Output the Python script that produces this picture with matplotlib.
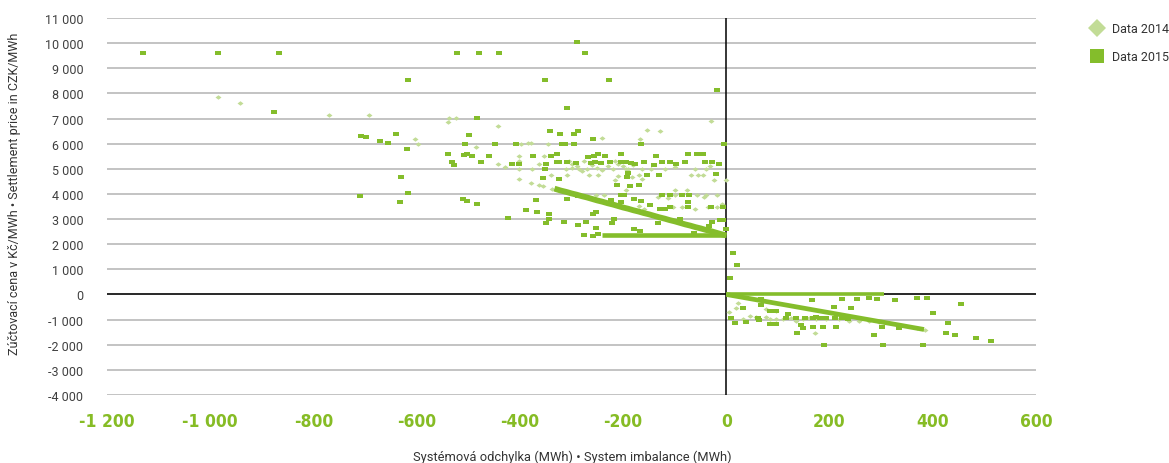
import numpy as np
import matplotlib
matplotlib.use("Agg")
import matplotlib.pyplot as plt
from matplotlib.lines import Line2D
from matplotlib.ticker import FixedLocator, FuncFormatter

# scattered points, 2015 (x = imbalance MWh, y = price CZK/MWh)
x15 = [-1131, -985, -867, -521, -479, -440, -274, -290, -616, -351, -228, -19,
       -876, -484, -308, -707, -699, -672, -655, -641, -618, -499, -342, -322,
       -296, -287, -258, -631, -616, -710, -632, -507, -449, -408, -319, -312,
       -295, -165, -5, -539, -531, -528, -509, -502, -493, -475, -459, -415,
       -401, -374, -352, -350, -329, -325, -329, -340, -309, -292, -268, -257,
       -248, -263, -254, -243, -235, -226, -204, -205, -195, -184, -177, -159,
       -140, -125, -109, -97, -80, -74, -57, -46, -42, -27, -14, -137, -324,
       -355, -192, -190, -153, -131, -20, -212, -186, -170, -125, -109, -86,
       -73, -205, -199, -511, -502, -483, -308, -368, -288, -273, -224, -204,
       -179, -165, -148, -129, -119, -109, -74, -75, -29, -6, -388, -366, -343,
       -344, -349, -423, -315, -258, -253, -287, -271, -253, -248, -259, -276,
       -218, -222, -179, -167, -132, -89, -34, -28, 0, -13, -6, -62,
       13, 21, 8, 225, 254, 277, 291, 326, 369, 389, 166, 208, 242, 455, 401,
       430, 425, 444, 483, 513, 189, 304, 381, 68, 68, 33, 61, 84, 97, 120, 10,
       16, 39, 64, 84, 97, 116, 135, 153, 167, 181, 137, 145, 149, 167, 188,
       212, 174, 193, 211, 225, 235, 241, 286, 301, 335]
y15 = [9600, 9600, 9600, 9600, 9600, 9600, 9600, 10030, 8550, 8550, 8550, 8150,
       7250, 7005, 7400, 6290, 6250, 6090, 6010, 6380, 5780, 6340, 6500, 6380,
       6380, 6490, 6200, 4660, 4020, 3900, 3680, 5980, 5980, 5980, 5980, 6000,
       6000, 5980, 5980, 5580, 5290, 5160, 5545, 5585, 5490, 5270, 5490, 5190,
       5190, 5490, 4990, 5190, 5270, 5270, 5580, 5490, 5270, 5230, 5480, 5520,
       5580, 5250, 5270, 5240, 5490, 5270, 5580, 5270, 5270, 5250, 5190, 5270,
       5170, 5270, 5280, 5190, 5270, 5580, 5580, 5580, 5270, 5270, 5190, 5490, 4580,
       4640, 4680, 4840, 4760, 4760, 4780, 4340, 4310, 4350, 3970, 3970, 3970,
       3970, 3970, 3970, 3810, 3710, 3610, 3780, 3740, 3900, 3870, 3770, 3670,
       3780, 3710, 3570, 3410, 3410, 3475, 3670, 3490, 3475, 3490, 3380, 3290, 3220,
       3010, 2850, 3060, 2880, 3210, 3275, 2750, 2890, 2650, 2390, 2320, 2360,
       2990, 2850, 2590, 2520, 2830, 2990, 2720, 2890, 2610, 2960, 2960, 2460,
       1630, 1170, 665, -170, -170, -130, -170, -240, -130, -130, -240, -505, -545, -370, -730,
       -1130, -1550, -1600, -1740, -1860, -2030, -2030, -2030, -200, -410, -520, -930, -660, -660, -760, -940,
       -1140, -1090, -1000, -1190, -1190, -955, -955, -955, -955, -955, -1540, -1230, -1330, -1290, -1290,
       -1290, -880, -955, -940, -955, -995, -915, -1620, -1290, -1330]

# dense price-rule points, 2015 (negative imbalance: sloped and flat parts)
x15_neg_slope = [-333, -320, -310, -300, -290, -280, -270, -260, -250, -240, -230,
                 -220, -210, -200, -190, -180, -170, -160, -150, -140, -130, -120,
                 -110, -100, -90, -80, -70, -60, -50, -40, -30, -20, -10, 0]
y15_neg_slope = [4210, 4130, 4080, 4020, 3970, 3910, 3860, 3800, 3740, 3690, 3630,
                 3580, 3520, 3460, 3410, 3350, 3300, 3240, 3190, 3130, 3070, 3020,
                 2960, 2910, 2850, 2790, 2740, 2680, 2630, 2570, 2520, 2460, 2400, 2350]
x15_neg_flat = [-240, -200, -160, -120, -80, -40, 0]
y15_neg_flat = [2350, 2350, 2350, 2350, 2350, 2350, 2350]
# dense price-rule points, 2015 (positive imbalance)
x15_pos_slope = [0, 20, 40, 60, 80, 100, 120, 140, 160, 180, 200, 220, 240,
                 260, 280, 300, 320, 340, 360, 383]
y15_pos_slope = [0, -73, -145, -218, -291, -364, -436, -509, -582, -655, -727,
                 -800, -873, -946, -1018, -1091, -1164, -1236, -1310, -1393]
x15_pos_flat = [0, 50, 100, 150, 200, 250, 306]
y15_pos_flat = [0, 0, 0, 0, 0, 0, 0]

# scattered points, 2014
x14 = [-985, -943, -770, -693, -604, -598, -537, -524, -540, -443, -486, -443,
       -384, -398, -378, -346, -240, -154, -129, -167, -29, -401, -401, -428,
       -401, -376, -363, -354, -340, -308, -401, -378, -363, -355, -338, -267,
       -249, -216, -209, -194, -183, -163, -170, -190, -164, -145, -119, -100,
       -61, -40, -32, -69, -55, -45, -23, 0, -100, -76, -100, -57, -39, -19,
       -43, -103, -85, -61, -35, -19, -132, -113, -8, -169, -159, -252, -237,
       -300, -290, -285, -280, -270, -260, -250, -240, -300, -275, -265, -310,
       -230, -220, -210, -200, -195, -180, -215, -305,
       23, 19, 6, 32, 58, 77, 84, 97, 109, 125, 135, 148, 161, 174, 193, 219,
       238, 258, 277, 296, 172, 77, 97, 45, 385, 370]
y14 = [7840, 7600, 7140, 7140, 6200, 5980, 7005, 7030, 6860, 6700, 5880, 5190,
       6035, 6000, 6035, 6000, 6210, 6540, 6490, 6180, 6890, 5505, 5320, 5080,
       4975, 4975, 5190, 5490, 4760, 4760, 4580, 4445, 4370, 4310, 4190, 4760,
       4760, 4560, 4710, 4150, 4680, 4580, 4760, 4975, 4975, 4975, 4975, 5055,
       4975, 4975, 5130, 4760, 4760, 4760, 4550, 4550, 4170, 4170, 3970, 3970, 3970, 3970,
       3890, 3490, 3490, 3410, 3475, 3475, 3870, 3850, 3590, 3515, 3410, 3970, 3970,
       5200, 5100, 5000, 4920, 5000, 5150, 5050, 4950, 5050, 5300, 5250, 4980,
       5100, 5000, 5200, 5100, 5000, 5150, 5300, 5300,
       -330, -530, -690, -995, -890, -890, -995, -995, -995, -930, -1060, -995,
       -930, -995, -995, -995, -1060, -1060, -1060, -1100, -1550, -560, -660,
       -860, -1400, -1340]

x_ticks = [-1200, -1000, -800, -600, -400, -200, 0, 200, 400, 600]
y_ticks = list(range(-4000, 11001, 1000))

c15 = '#84bd2b'
c14 = '#c2dc96'
rect = [(-1, -0.7), (1, -0.7), (1, 0.7), (-1, 0.7), (-1, -0.7)]
diam = [(-1, 0), (0, 0.75), (1, 0), (0, -0.75), (-1, 0)]

plt.rcParams['font.family'] = ['Roboto', 'DejaVu Sans']

fig = plt.figure(figsize=(11.69, 4.64), dpi=100)
ax = fig.add_axes([107/1169, 1 - 396/464, (1036-107)/1169, (396-19)/464])

ax.set_xlim(-1200, 600)
ax.set_ylim(-4000, 11000)
ax.xaxis.set_major_locator(FixedLocator(x_ticks))
ax.yaxis.set_major_locator(FixedLocator(y_ticks))
fmt = FuncFormatter(lambda v, p: f"{int(v):,}".replace(',', ' '))
ax.xaxis.set_major_formatter(fmt)
ax.yaxis.set_major_formatter(fmt)

for s in ax.spines.values():
    s.set_visible(False)
ax.tick_params(axis='both', length=0)
ax.tick_params(axis='y', pad=17, labelsize=9, labelcolor='#404040')
ax.tick_params(axis='x', pad=12)
for lab in ax.get_xticklabels():
    lab.set_fontfamily('DejaVu Sans')
    lab.set_fontstretch('condensed')
    lab.set_fontweight('bold')
    lab.set_fontsize(12.5)
    lab.set_color('#86bc25')

ax.yaxis.grid(True, color='#b3b3b3', lw=1.1, zorder=0)
ax.set_axisbelow(True)
ax.axhline(0, color='black', lw=1.1, zorder=1)
ax.axvline(0, color='black', lw=1.1, zorder=1)

ax.plot(x14, y14, ls='', marker=diam, ms=4.3, mew=0, color=c14, zorder=2)
ax.plot(x15, y15, ls='', marker=rect, ms=4.2, mew=0, color=c15, zorder=3)
# the dense runs of 2015 points read as solid bands
ax.plot(x15_neg_slope, y15_neg_slope, color=c15, lw=4.2, solid_capstyle='butt', zorder=3)
ax.plot(x15_neg_flat, y15_neg_flat, color=c15, lw=3.3, solid_capstyle='butt', zorder=3)
ax.plot(x15_pos_slope, y15_pos_slope, color=c15, lw=3.4, solid_capstyle='butt', zorder=3)
ax.plot(x15_pos_flat, y15_pos_flat, color=c15, lw=2.6, solid_capstyle='butt', zorder=3)

fig.text(572/1169, 1 - 457/464, 'Systémová odchylka (MWh) • System imbalance (MWh)',
         ha='center', va='center', fontsize=9.3, color='#333333')
fig.text(15/1169, 1 - 194/464, 'Zúčtovací cena v Kč/MWh • Settlement price in CZK/MWh',
         rotation=90, ha='center', va='center', fontsize=9, color='#333333')

handles = [Line2D([], [], ls='', marker='D', ms=9, mew=0, color=c14),
           Line2D([], [], ls='', marker='s', ms=10, mew=0, color=c15)]
fig.legend(handles, ['Data 2014', 'Data 2015'], loc='upper left',
           bbox_to_anchor=(1078/1169, 1 - 12/464), frameon=False, fontsize=9,
           labelspacing=1.2, handletextpad=0.6, handlelength=1.2,
           labelcolor='#333333')

fig.savefig('out.png', dpi=100)
